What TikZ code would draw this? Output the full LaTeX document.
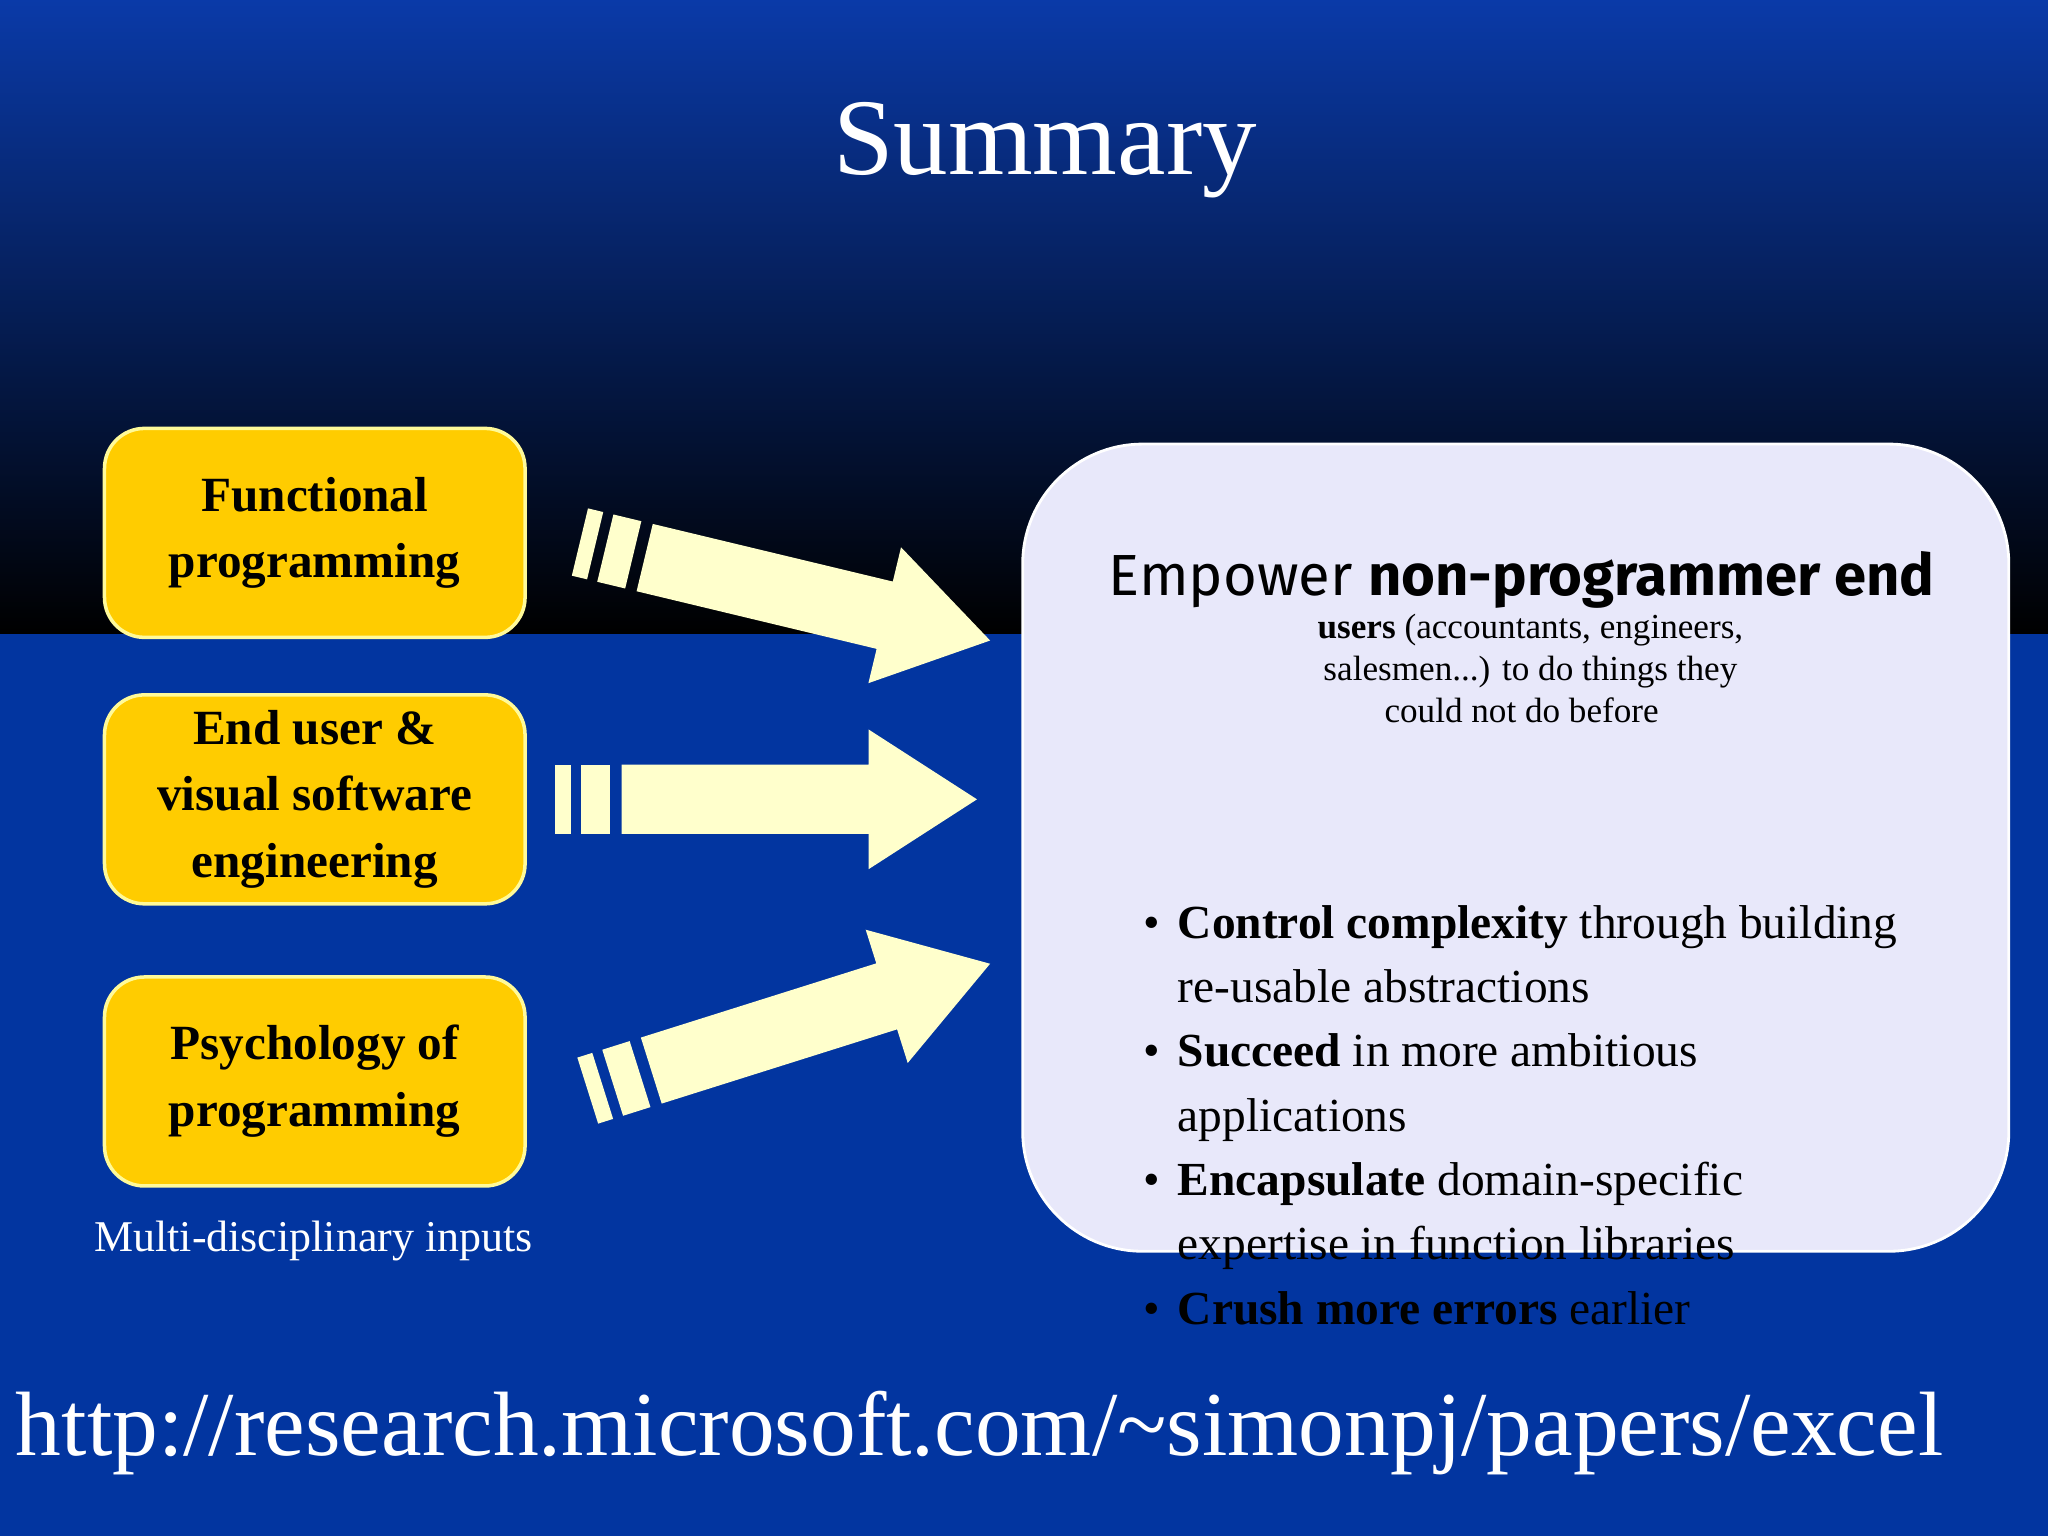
\documentclass[tikz,border=0pt]{standalone}
\usepackage{fontspec}
\setmainfont{Liberation Serif}
\newfontfamily\comicf{Fira Sans}
\begin{document}
\begin{tikzpicture}[x=0.01306cm,y=-0.01306cm,
  ybox/.style={draw=yellow!40!white,line width=1pt,fill=boxyellow,rounded corners=0.4cm,minimum width=322*0.01306cm,minimum height=160*0.01306cm,align=center,font=\fontsize{14}{19}\selectfont\bfseries},
  arr/.style={fill=cream}]
\definecolor{boxyellow}{HTML}{FFCC00}
\definecolor{cream}{HTML}{FFFFCC}
\definecolor{bgblue}{HTML}{0235A0}
\definecolor{topblue}{HTML}{0A3AA8}
\definecolor{panel}{HTML}{E8E8FA}
\useasboundingbox (0,0) rectangle (1568,1176);
\fill[bgblue] (0,0) rectangle (1568,1176);
\shade[top color=topblue,bottom color=black] (0,0) rectangle (1568,485);
\node (title) at (800,115) {\fontsize{31}{36}\selectfont\color{white}Summary};
\node[ybox] (b1) at (241,408) {Functional\\programming};
\node[ybox] (b2) at (241,612) {End user \&\\visual software\\engineering};
\node[ybox] (b3) at (241,828) {Psychology of\\programming};
\node (cap) at (240,950) {\fontsize{12.5}{15}\selectfont\color{white}Multi-disciplinary inputs};
\newcommand\shapearrow{%
  \fill[cream] (0,-26.5) rectangle (12,26.5);
  \fill[cream] (20,-26.5) rectangle (42,26.5);
  \fill[cream] (51,-26.5) -- (240,-26.5) -- (240,-53.5) -- (323,0) -- (240,53.5) -- (240,26.5) -- (51,26.5) -- cycle;}
\begin{scope}[shift={(425,612)}]\shapearrow\end{scope}
\begin{scope}[shift={(444,415)},rotate=-13.5]\shapearrow\end{scope}
\begin{scope}[shift={(450,835)},rotate=17.5]\shapearrow\end{scope}
\fill[panel,draw=white,line width=0.8pt,rounded corners=1.2cm] (783,340) rectangle (1538,958);
\node[align=center] (head) at (1165,488) {\comicf\fontsize{16.5}{22}\selectfont Empower \textbf{non-programmer end}\\\ \ \textbf{users} (accountants, engineers,\\\ \ salesmen...) to do things they\\could not do before};
\node[align=left,anchor=north west,text width=640*0.01306cm] (bul) at (825,638) {\fontsize{13.5}{18.3}\selectfont
\begin{itemize}\setlength{\itemsep}{0pt}\setlength{\parskip}{0pt}\setlength{\leftmargin}{0.45cm}
\item[\textbullet] \textbf{Control complexity} through building re-usable abstractions
\item[\textbullet] \textbf{Succeed} in more ambitious applications
\item[\textbullet] \textbf{Encapsulate} domain-specific expertise in function libraries
\item[\textbullet] \textbf{Crush more errors} earlier
\end{itemize}};
\node (url) at (750,1097) {\fontsize{26}{30}\selectfont\color{white}http://research.microsoft.com/\textasciitilde simonpj/papers/excel};
\end{tikzpicture}
\end{document}
